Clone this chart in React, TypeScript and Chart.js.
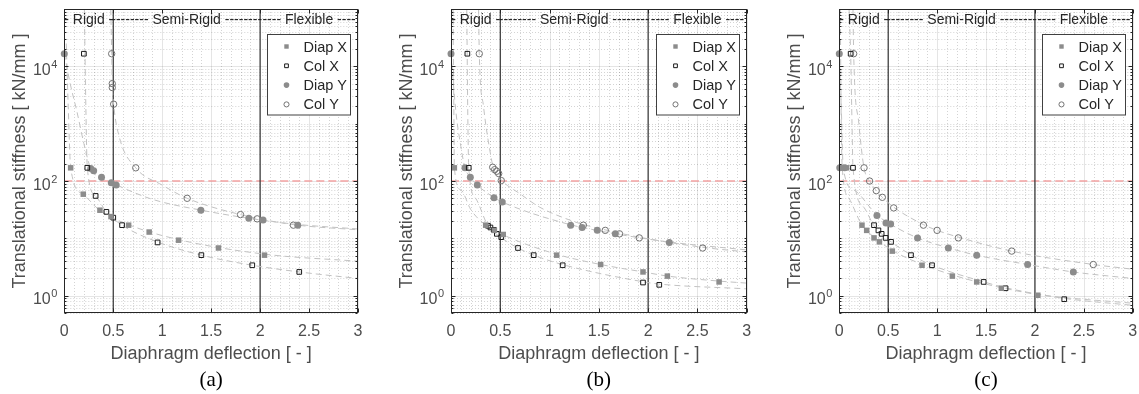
import React, { useEffect, useRef } from 'react';
import { Chart, registerables } from 'chart.js';

Chart.register(...registerables);

const SANS = '"Liberation Sans", Arial, sans-serif';
const SERIF = '"Liberation Serif", "Times New Roman", serif';

// ---------- tick labels / annotations ----------
const X_TICKS = [0, 0.5, 1, 1.5, 2, 2.5, 3];
const X_TICK_LABELS = ['0', '0.5', '1', '1.5', '2', '2.5', '3'];
const Y_TICK_EXPONENTS = [0, 2, 4];
const ZONE_BOUNDS = [0.5, 2];
const ZONE_RANGES = [[0, 0.5], [0.5, 2], [2, 3]];
const ZONE_LABELS = ['- Rigid -', '-------- Semi-Rigid --------', '---- Flexible ----'];
const THRESHOLD = 100;
const SERIES_NAMES = ['Diap X', 'Col X', 'Diap Y', 'Col Y'];
const PANEL_LABELS = ['(a)', '(b)', '(c)'];
const X_TITLE = 'Diaphragm deflection [ - ]';
const Y_TITLE = 'Translational stiffness [ kN/mm ]';

// ---------- panel (a) ----------
const A_DIAP_X = [[0.065, 170], [0.194, 59], [0.364, 31], [0.477, 24], [0.657, 17], [0.867, 12.9], [1.167, 9.3], [1.575, 6.8], [2.045, 5.1]];
const A_COL_X = [[0.2, 16600], [0.235, 170], [0.32, 55], [0.43, 29], [0.5, 23], [0.59, 17], [0.953, 8.5], [1.4, 5.1], [1.92, 3.4], [2.4, 2.6]];
const A_DIAP_Y = [[0, 16600], [0.27, 166], [0.3, 151], [0.38, 117], [0.48, 93], [0.53, 85], [1.395, 31], [1.885, 22.4], [2.03, 20.9], [2.385, 17]];
const A_COL_Y = [[0.484, 16600], [0.49, 5000], [0.49, 4270], [0.504, 2190], [0.73, 170], [1.255, 50], [1.8, 26], [1.97, 21.9], [2.34, 17]];
const A_FIT_DX = [[0.02, 25000], [0.04, 2000], [0.065, 170], [0.19, 59], [0.36, 31], [0.65, 17.5], [1.17, 9.5], [2.05, 5.3], [3, 4.0]];
const A_FIT_CX = [[0.205, 100000], [0.22, 2000], [0.235, 170], [0.32, 55], [0.43, 29], [0.59, 17], [0.95, 8.7], [1.4, 5.1], [1.92, 3.4], [2.4, 2.6], [3, 2.0]];
const A_FIT_DY = [[0, 16600], [0.06, 5000], [0.13, 1600], [0.2, 450], [0.27, 166], [0.38, 115], [0.53, 86], [0.9, 48], [1.4, 31], [2.0, 21], [2.4, 17.4], [3, 14.6]];
const A_FIT_CY = [[0.475, 100000], [0.484, 16600], [0.49, 5000], [0.504, 2190], [0.56, 600], [0.73, 170], [1.0, 85], [1.255, 50], [1.8, 26], [2.34, 17.4], [3, 14.1]];

// ---------- panel (b) ----------
const B_DIAP_X = [[0.034, 170], [0.352, 17], [0.44, 13.8], [0.53, 11.7], [1.072, 5.1], [1.518, 3.5], [1.948, 2.6], [2.195, 2.2], [2.72, 1.74]];
const B_COL_X = [[0.166, 16600], [0.18, 170], [0.375, 16.6], [0.4, 15.5], [0.435, 14.1], [0.465, 12], [0.51, 10.5], [0.68, 6.8], [0.839, 5.1], [1.133, 3.4], [1.948, 1.7], [2.113, 1.55]];
const B_DIAP_Y = [[0, 16600], [0.142, 170], [0.196, 117], [0.267, 85], [0.436, 51], [0.52, 43], [1.214, 17], [1.33, 15.5], [1.484, 13.8], [1.667, 12], [2.215, 8.5]];
const B_COL_Y = [[0.287, 16600], [0.423, 174], [0.443, 158], [0.464, 148], [0.484, 135], [0.51, 102], [1.343, 17], [1.565, 13.8], [1.71, 12], [1.91, 10.2], [2.553, 6.8]];
const B_FIT_DX = [[0.02, 100000], [0.03, 1000], [0.034, 170], [0.1, 70], [0.2, 32], [0.352, 17], [0.53, 11.5], [1.07, 5.3], [1.52, 3.5], [1.95, 2.6], [2.2, 2.2], [2.72, 1.8], [3, 1.66]];
const B_FIT_CX = [[0.16, 100000], [0.17, 1600], [0.18, 170], [0.25, 50], [0.375, 16.6], [0.51, 10.3], [0.68, 6.8], [0.84, 5.1], [1.13, 3.5], [1.95, 1.75], [2.11, 1.6], [3, 1.32]];
const B_FIT_DY = [[0, 16600], [0.05, 1600], [0.1, 400], [0.142, 170], [0.2, 115], [0.267, 85], [0.44, 51], [0.52, 43], [1.2, 17.5], [1.48, 13.8], [1.67, 12], [2.2, 8.7], [3, 6.3]];
const B_FIT_CY = [[0.28, 100000], [0.287, 16600], [0.33, 2000], [0.4, 300], [0.43, 170], [0.51, 105], [0.7, 60], [0.9, 35], [1.2, 21], [1.34, 17.5], [1.57, 14], [1.91, 10.5], [2.55, 7], [3, 5.8]];

// ---------- panel (c) ----------
const C_DIAP_X = [[0.03, 170], [0.075, 170], [0.232, 17], [0.28, 13.8], [0.355, 10.2], [0.41, 8.7], [0.542, 6.0], [0.846, 3.4], [1.156, 2.2], [1.405, 1.74], [1.657, 1.35], [2.03, 1.02]];
const C_COL_X = [[0.116, 16600], [0.14, 170], [0.355, 17], [0.4, 13.8], [0.433, 12], [0.474, 10.2], [0.529, 8.7], [0.733, 5.1], [0.948, 3.4], [1.476, 1.74], [1.7, 1.35], [2.3, 0.87]];
const C_DIAP_Y = [[0, 16600], [0.005, 170], [0.055, 170], [0.385, 25], [0.477, 18.6], [0.525, 17.8], [0.8, 10.2], [1.115, 6.8], [1.405, 5.1], [1.926, 3.5], [2.393, 2.6]];
const C_COL_Y = [[0.147, 16600], [0.253, 170], [0.31, 100], [0.378, 68], [0.44, 52], [0.556, 34], [0.86, 17], [1.0, 13.8], [1.217, 10.2], [1.763, 6.0], [2.597, 3.5]];
const C_FIT_DX = [[0.01, 100000], [0.02, 1000], [0.03, 170], [0.1, 50], [0.232, 17], [0.355, 10.5], [0.54, 6.2], [0.85, 3.5], [1.16, 2.3], [1.4, 1.76], [1.66, 1.38], [2.03, 1.05], [3, 0.74]];
const C_FIT_CX = [[0.1, 100000], [0.116, 16600], [0.13, 1000], [0.14, 170], [0.25, 35], [0.355, 16.6], [0.47, 10.5], [0.73, 5.2], [0.95, 3.4], [1.48, 1.74], [1.7, 1.38], [2.3, 0.9], [3, 0.68]];
const C_FIT_DY = [[0, 16600], [0.02, 2000], [0.04, 170], [0.15, 70], [0.385, 25.5], [0.52, 17.8], [0.8, 10.2], [1.12, 6.8], [1.4, 5.1], [1.93, 3.5], [2.39, 2.6], [3, 2.0]];
const C_FIT_CY = [[0.14, 100000], [0.147, 16600], [0.2, 1000], [0.253, 170], [0.31, 100], [0.378, 68], [0.44, 52], [0.556, 35], [0.86, 17.4], [1.0, 13.8], [1.22, 10.5], [1.76, 6.0], [2.6, 3.5], [3, 2.9]];

const PANEL_SERIES = [
  { markers: [A_DIAP_X, A_COL_X, A_DIAP_Y, A_COL_Y], fits: [A_FIT_DX, A_FIT_CX, A_FIT_DY, A_FIT_CY] },
  { markers: [B_DIAP_X, B_COL_X, B_DIAP_Y, B_COL_Y], fits: [B_FIT_DX, B_FIT_CX, B_FIT_DY, B_FIT_CY] },
  { markers: [C_DIAP_X, C_COL_X, C_DIAP_Y, C_COL_Y], fits: [C_FIT_DX, C_FIT_CX, C_FIT_DY, C_FIT_CY] },
];

// ---------- layout / styles ----------
const H = 394;
const PLOT_TOP = 9;
const PLOT_BOTTOM = 313;
const PANEL_GEOM = [
  { left: 0, width: 380, plotLeft: 64.3, plotRight: 358 },
  { left: 380, width: 380, plotLeft: 71, plotRight: 366.7 },
  { left: 760, width: 379, plotLeft: 79.3, plotRight: 372.7 },
];

const MARKER_STYLES = [
  { shape: 'rect', r: 3.9, fill: '#8c8c8c', stroke: '#8c8c8c', lw: 0 },
  { shape: 'rect', r: 3.3, fill: 'rgba(0,0,0,0)', stroke: '#1a1a1a', lw: 1 },
  { shape: 'circle', r: 3.5, fill: '#8c8c8c', stroke: '#8c8c8c', lw: 0 },
  { shape: 'circle', r: 3.2, fill: 'rgba(0,0,0,0)', stroke: '#737373', lw: 1 },
];

function drawMarker(ctx: CanvasRenderingContext2D, st: any, x: number, y: number) {
  ctx.save();
  ctx.beginPath();
  if (st.shape === 'rect') {
    const s = Math.SQRT1_2 * st.r;
    ctx.rect(x - s, y - s, 2 * s, 2 * s);
  } else {
    ctx.arc(x, y, st.r, 0, Math.PI * 2);
  }
  ctx.fillStyle = st.fill;
  ctx.fill();
  if (st.lw > 0) {
    ctx.lineWidth = st.lw;
    ctx.strokeStyle = st.stroke;
    ctx.stroke();
  }
  ctx.restore();
}

function minorYValues(): number[] {
  const out: number[] = [];
  for (let d = -1; d <= 4; d++) {
    for (let k = 1; k <= 9; k++) {
      const v = k * Math.pow(10, d);
      if (v < 0.5 || v > 1e5) continue;
      if (k === 1 && d % 2 === 0) continue;
      out.push(v);
    }
  }
  return out;
}

function makePlugin(idx: number) {
  return {
    id: 'deco' + idx,
    beforeDatasetsDraw(chart: any) {
      const { ctx, chartArea: a } = chart;
      const xs = chart.scales.x;
      const ys = chart.scales.y;
      ctx.save();
      ctx.fillStyle = '#ffffff';
      ctx.fillRect(a.left, a.top, a.right - a.left, a.bottom - a.top);
      // minor grid (dotted)
      ctx.lineWidth = 1;
      ctx.strokeStyle = 'rgba(38,38,38,0.2)';
      ctx.setLineDash([1, 2]);
      for (let i = 1; i < 30; i++) {
        if (i % 5 === 0) continue;
        const px = Math.round(xs.getPixelForValue(i / 10)) + 0.5;
        ctx.beginPath();
        ctx.moveTo(px, a.top);
        ctx.lineTo(px, a.bottom);
        ctx.stroke();
      }
      for (const v of minorYValues()) {
        const py = Math.round(ys.getPixelForValue(v)) + 0.5;
        ctx.beginPath();
        ctx.moveTo(a.left, py);
        ctx.lineTo(a.right, py);
        ctx.stroke();
      }
      // major grid
      ctx.setLineDash([]);
      ctx.strokeStyle = 'rgba(38,38,38,0.12)';
      for (const v of X_TICKS) {
        const px = Math.round(xs.getPixelForValue(v)) + 0.5;
        ctx.beginPath();
        ctx.moveTo(px, a.top);
        ctx.lineTo(px, a.bottom);
        ctx.stroke();
      }
      for (const e of Y_TICK_EXPONENTS) {
        const py = Math.round(ys.getPixelForValue(Math.pow(10, e))) + 0.5;
        ctx.beginPath();
        ctx.moveTo(a.left, py);
        ctx.lineTo(a.right, py);
        ctx.stroke();
      }
      // threshold line
      ctx.strokeStyle = '#f3a3a3';
      ctx.lineWidth = 1.6;
      ctx.setLineDash([8, 4]);
      const ty = ys.getPixelForValue(THRESHOLD);
      ctx.beginPath();
      ctx.moveTo(a.left, ty);
      ctx.lineTo(a.right, ty);
      ctx.stroke();
      // zone boundaries
      ctx.setLineDash([]);
      ctx.strokeStyle = '#333333';
      ctx.lineWidth = 1.2;
      for (const b of ZONE_BOUNDS) {
        const px = xs.getPixelForValue(b);
        ctx.beginPath();
        ctx.moveTo(px, a.top);
        ctx.lineTo(px, a.bottom);
        ctx.stroke();
      }
      ctx.restore();
    },
    afterDatasetsDraw(chart: any) {
      const { ctx, chartArea: a } = chart;
      const xs = chart.scales.x;
      const ys = chart.scales.y;
      ctx.save();
      // axes box
      ctx.strokeStyle = '#262626';
      ctx.lineWidth = 1;
      ctx.setLineDash([]);
      const L = Math.round(a.left) + 0.5, R = Math.round(a.right) - 0.5;
      const T = Math.round(a.top) + 0.5, B = Math.round(a.bottom) - 0.5;
      ctx.strokeRect(L, T, R - L, B - T);
      // ticks
      ctx.beginPath();
      for (const v of X_TICKS) {
        const px = Math.round(xs.getPixelForValue(v)) + 0.5;
        ctx.moveTo(px, B); ctx.lineTo(px, B - 4);
        ctx.moveTo(px, T); ctx.lineTo(px, T + 4);
      }
      for (const e of Y_TICK_EXPONENTS) {
        const py = Math.round(ys.getPixelForValue(Math.pow(10, e))) + 0.5;
        ctx.moveTo(L, py); ctx.lineTo(L + 4, py);
        ctx.moveTo(R, py); ctx.lineTo(R - 4, py);
      }
      for (const v of minorYValues()) {
        const py = Math.round(ys.getPixelForValue(v)) + 0.5;
        ctx.moveTo(L, py); ctx.lineTo(L + 2, py);
        ctx.moveTo(R, py); ctx.lineTo(R - 2, py);
      }
      ctx.stroke();

      // zone labels
      ctx.fillStyle = '#262626';
      ctx.font = `14px ${SANS}`;
      ctx.textAlign = 'center';
      ctx.textBaseline = 'alphabetic';
      ZONE_LABELS.forEach((t, i) => {
        const cx = (xs.getPixelForValue(ZONE_RANGES[i][0]) + xs.getPixelForValue(ZONE_RANGES[i][1])) / 2;
        ctx.fillText(t, cx, PLOT_TOP + 15);
      });

      // legend
      const bw = 83, bh = 80.5;
      const bx = Math.round(a.right - 8 - bw) + 0.5;
      const by = Math.round(a.top + 25) + 0.5;
      ctx.fillStyle = '#ffffff';
      ctx.fillRect(bx, by, bw, bh);
      ctx.strokeStyle = '#404040';
      ctx.lineWidth = 1;
      ctx.strokeRect(bx, by, bw, bh);
      ctx.font = `14.5px ${SANS}`;
      ctx.textAlign = 'left';
      ctx.textBaseline = 'middle';
      SERIES_NAMES.forEach((n, i) => {
        const ry = by + 12 + i * 19.3;
        drawMarker(ctx, { ...MARKER_STYLES[i], r: MARKER_STYLES[i].r * 0.8 }, bx + 19, ry);
        ctx.fillStyle = '#262626';
        ctx.fillText(n, bx + 36, ry + 1);
      });

      // x tick labels
      ctx.fillStyle = '#4d4d4d';
      ctx.font = `16px ${SANS}`;
      ctx.textAlign = 'center';
      ctx.textBaseline = 'alphabetic';
      X_TICKS.forEach((v, i) => {
        ctx.fillText(X_TICK_LABELS[i], xs.getPixelForValue(v), 336);
      });
      // y tick labels 10^e
      for (const e of Y_TICK_EXPONENTS) {
        const py = ys.getPixelForValue(Math.pow(10, e));
        ctx.textAlign = 'left';
        ctx.font = `11px ${SANS}`;
        const es = String(e);
        const ew = ctx.measureText(es).width;
        const ex = a.left - 7 - ew;
        ctx.fillText(es, ex, py + 1.5);
        ctx.font = `16px ${SANS}`;
        const tw = ctx.measureText('10').width;
        ctx.fillText('10', ex - tw - 0.5, py + 8.5);
      }
      // axis titles
      ctx.font = `18px ${SANS}`;
      ctx.textAlign = 'center';
      ctx.fillText(X_TITLE, (a.left + a.right) / 2, 358.5);
      ctx.save();
      ctx.translate(a.left - 39, (a.top + a.bottom) / 2);
      ctx.rotate(-Math.PI / 2);
      ctx.fillText(Y_TITLE, 0, 0);
      ctx.restore();
      // panel label
      ctx.fillStyle = '#000000';
      ctx.font = `21px ${SERIF}`;
      ctx.fillText(PANEL_LABELS[idx], (a.left + a.right) / 2, 386);
      ctx.restore();
    },
  };
}

function Panel({ idx }: { idx: number }) {
  const ref = useRef<HTMLCanvasElement | null>(null);
  const g = PANEL_GEOM[idx];
  useEffect(() => {
    const series = PANEL_SERIES[idx];
    const datasets: any[] = [];
    series.markers.forEach((arr, i) => {
      const st = MARKER_STYLES[i];
      datasets.push({
        label: SERIES_NAMES[i],
        data: arr.map(([x, y]) => ({ x, y })),
        showLine: false,
        pointStyle: st.shape,
        pointRadius: st.r,
        pointHoverRadius: st.r,
        pointBackgroundColor: st.fill,
        pointBorderColor: st.stroke,
        pointBorderWidth: st.lw,
        clip: false,
        order: 0,
      });
    });
    series.fits.forEach((arr, i) => {
      datasets.push({
        label: SERIES_NAMES[i] + ' fit',
        data: arr.map(([x, y]) => ({ x, y })),
        showLine: true,
        pointRadius: 0,
        borderColor: '#c2c2c2',
        borderWidth: 1,
        borderDash: [6, 4],
        tension: 0.3,
        cubicInterpolationMode: 'monotone',
        fill: false,
        order: 1,
      });
    });
    const chart = new Chart(ref.current as HTMLCanvasElement, {
      type: 'scatter',
      data: { datasets },
      options: {
        animation: false,
        responsive: false,
        devicePixelRatio: 1,
        events: [],
        layout: { padding: { left: 0, top: PLOT_TOP, right: g.width - g.plotRight, bottom: 0 } },
        plugins: { legend: { display: false }, tooltip: { enabled: false } },
        scales: {
          x: {
            type: 'linear', min: 0, max: 3,
            grid: { display: false }, border: { display: false }, ticks: { display: false },
            afterFit: (s: any) => { s.height = H - PLOT_BOTTOM; },
          },
          y: {
            type: 'logarithmic', min: 0.5, max: 100000,
            grid: { display: false }, border: { display: false }, ticks: { display: false },
            afterFit: (s: any) => { s.width = g.plotLeft; },
          },
        },
      } as any,
      plugins: [makePlugin(idx)],
    });
    return () => chart.destroy();
  }, []);
  return (
    <canvas
      ref={ref}
      width={g.width}
      height={H}
      style={{ position: 'absolute', left: g.left, top: 0, width: g.width, height: H }}
    />
  );
}

export default function App() {
  return (
    <div style={{ position: 'absolute', left: 0, top: 0, width: 1139, height: H, background: '#ffffff', overflow: 'hidden' }}>
      {PANEL_GEOM.map((_, i) => <Panel key={i} idx={i} />)}
    </div>
  );
}
